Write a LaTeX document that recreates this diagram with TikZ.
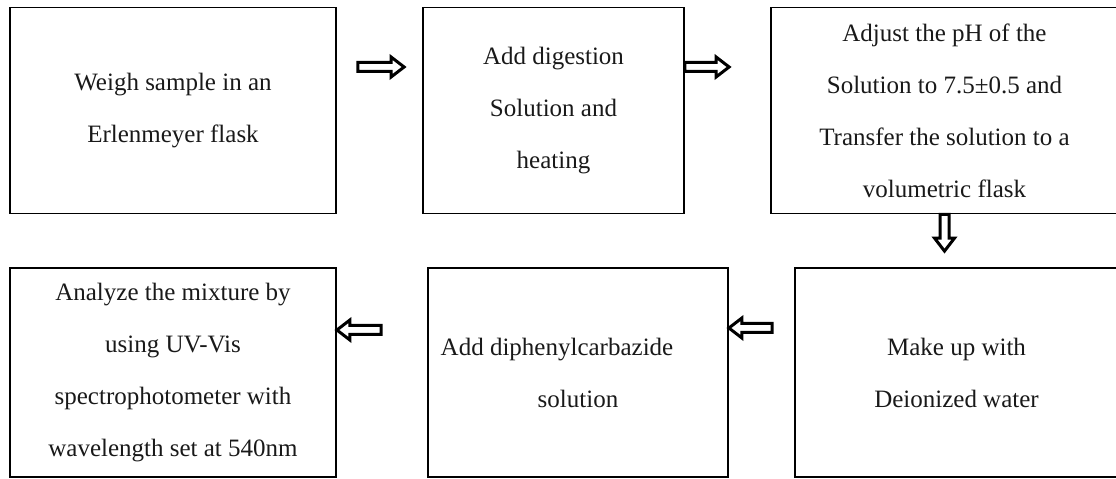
\documentclass[tikz,border=0pt]{standalone}
\usepackage{fontspec}
\setmainfont{Liberation Serif}
\usetikzlibrary{calc}

\begin{document}
\begin{tikzpicture}[x=1pt, y=1pt,
        box/.style={draw, line width=1.8pt, inner sep=0pt, align=center, text=black!90,
            font=\fontsize{25}{52}\selectfont},
        flow/.style={draw, line width=3pt, line join=miter, fill=white,
            to path={let \p1=(\tikztostart), \p2=(\tikztotarget),
                \n1={atan2(\y2-\y1,\x2-\x1)}, \n2={veclen(\x2-\x1,\y2-\y1)-13},
                \n3={\n1+90}, \n4={\n1-90} in
                ($(\p1)+(\n3:4.5)$) -- ++(\n1:\n2) -- ++(\n3:5.5) -- (\p2)
                -- ($(\p1)+(\n1:\n2)+(\n4:10)$) -- ++(\n3:5.5)
                -- ($(\p1)+(\n4:4.5)$) -- cycle}}
    ]
        \useasboundingbox (0,0) rectangle (1116,479);
        \clip (0,0) rectangle (1116,479);

        % top row
        \node[box, minimum width=326pt, minimum height=206pt] (b1) at (173,368.5)
            {Weigh sample in an\\Erlenmeyer flask};
        \node[box, minimum width=261pt, minimum height=206pt] (b2) at (553.5,368.5)
            {Add digestion\\Solution and\\heating};
        \node[box, minimum width=347pt, minimum height=206pt] (b3) at (944.5,368.5)
            {Adjust the pH of the\\Solution to 7.5±0.5 and\\Transfer the solution to a\\volumetric flask};

        % bottom row
        \node[box, minimum width=326pt, minimum height=209pt] (b4) at (173,106.5)
            {Analyze the mixture by\\using UV-Vis\\spectrophotometer with\\wavelength set at 540nm};
        \node[box, minimum width=300pt, minimum height=209pt] (b5) at (578,106.5)
            {Add diphenylcarbazide\hspace*{42pt}\\solution};
        \node[box, minimum width=323pt, minimum height=209pt] (b6) at (956.5,106.5)
            {Make up with\\Deionized water};

        % arrows
        \draw[flow] ($(b1.east)+(21,43.5)$) to ($(b2.west)+(-18,43.5)$);
        \draw[flow] ($(b2.east)+(0,43.5)$) to ($(b3.west)+(-41,43.5)$);
        \draw[flow] (b3.south) to ($(b3.south |- b6.north)+(0,16)$);
        \draw[flow] ($(b6.west)+(-22,44.5)$) to ($(b5.east)+(0,44.5)$);
        \draw[flow] ($(b5.west)+(-46,42.5)$) to ($(b4.east)+(0,42.5)$);
    \end{tikzpicture}
\end{document}
